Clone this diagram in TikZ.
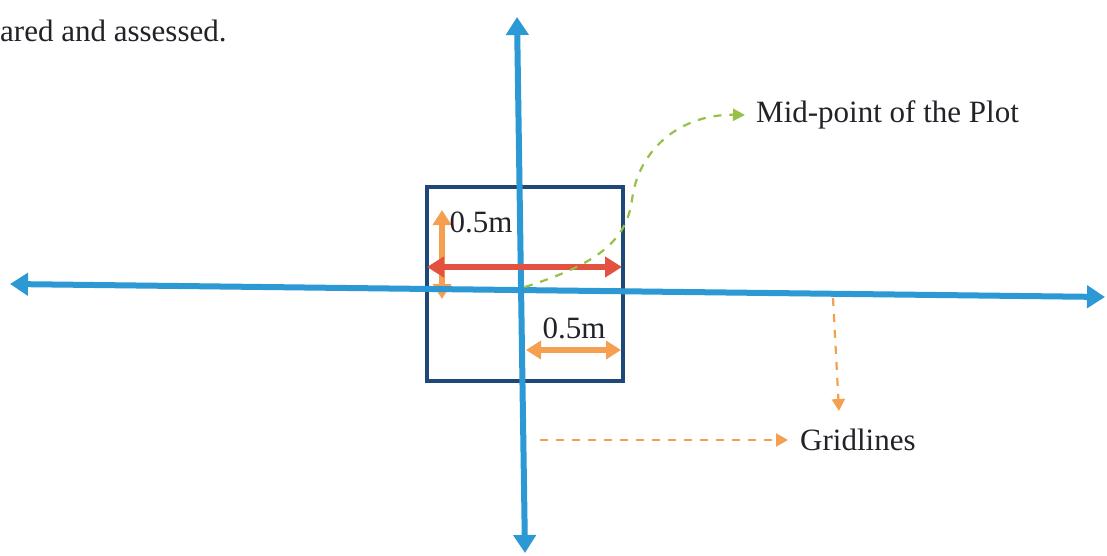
\documentclass[tikz,border=0pt]{standalone}
\usepackage{fontspec}
\setmainfont{Liberation Serif}
\usetikzlibrary{arrows.meta}
\definecolor{axisblue}{RGB}{44,152,212}
\definecolor{boxblue}{RGB}{30,72,120}
\definecolor{redarr}{RGB}{226,82,62}
\definecolor{orangearr}{RGB}{245,160,80}
\definecolor{greenarr}{RGB}{150,192,70}
\definecolor{txt}{RGB}{34,34,40}
\tikzset{
  axis/.style={draw=axisblue, line width=6pt, {Triangle[length=18pt,width=22pt]}-{Triangle[length=18pt,width=22pt]}},
  plotbox/.style={draw=boxblue, line width=3.2pt},
  dimred/.style={draw=redarr, line width=6.5pt, {Triangle[length=17pt,width=20pt]}-{Triangle[length=17pt,width=20pt]}},
  dimor/.style={draw=orangearr, line width=6pt, {Triangle[length=15pt,width=18pt]}-{Triangle[length=15pt,width=18pt]}},
  pointer/.style={dashed, dash pattern=on 8pt off 8pt, line width=2.2pt},
  lbl/.style={text=txt, font=\fontsize{31}{35}\selectfont, inner sep=0pt},
}
\begin{document}
\begin{tikzpicture}[x=1pt,y=-1pt]
\useasboundingbox[fill=white] (0,0) rectangle (1107,556);
% coordinates
\coordinate (hl) at (10,284);
\coordinate (hr) at (1105,297);
\coordinate (vt) at (517,17);
\coordinate (vb) at (525,553);
\coordinate (mid) at (525,287);
% texts
\node[lbl, anchor=west] (top) at (0,31) {ared and assessed.};
\node[lbl, anchor=west] (midlbl) at (756,115) {Mid-point of the Plot};
\node[lbl, anchor=west] (grid) at (800,440) {Gridlines};
% plot box
\draw[plotbox] (427,187) rectangle (623,381);
% orange vertical dim
\coordinate (ovt) at (442,210);
\coordinate (ovb) at (442,299);
\draw[dimor] (ovt) -- (ovb);
% axes
\draw[axis] (hl) -- (hr);
\draw[axis] (vt) -- (vb);
% red dim
\coordinate (rl) at (427,267);
\coordinate (rr) at (622,267);
\draw[dimred] (rl) -- (rr);
% bottom orange dim
\coordinate (ol) at (526,350);
\coordinate (or) at (621,350);
\draw[dimor] (ol) -- (or);
% dimension labels
\node[lbl] (d1) at (481,222) {0.5m};
\node[lbl] (d2) at (574,328) {0.5m};
% green pointer
\draw[pointer, draw=greenarr, -{Triangle[length=12pt,width=12pt,fill=greenarr]}] (mid) .. controls (590,266) and (626,245) .. (632,200) .. controls (638,150) and (680,114) .. ([xshift=-11pt]midlbl.west);
% orange pointers
\coordinate (gv) at (833,298);
\draw[pointer, draw=orangearr, -{Triangle[length=12pt,width=13pt,fill=orangearr]}] (gv) -- (839,411);
\coordinate (gh) at (540,440);
\draw[pointer, draw=orangearr, -{Triangle[length=12pt,width=13pt,fill=orangearr]}] (gh) -- ([xshift=-12pt]grid.west);
\end{tikzpicture}
\end{document}
